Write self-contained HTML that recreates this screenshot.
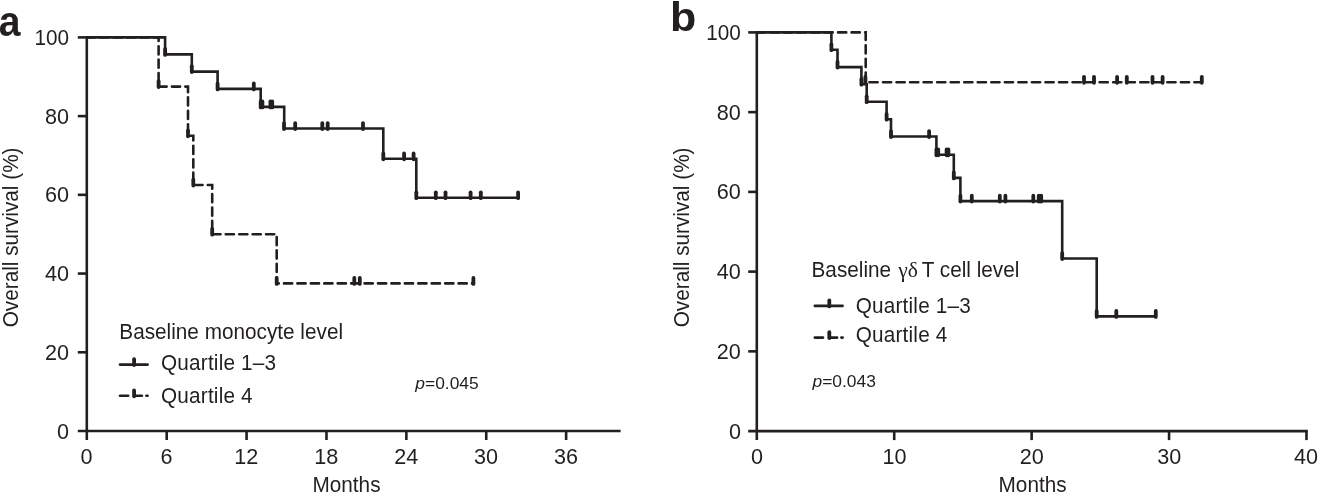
<!DOCTYPE html>
<html lang="en">
<head>
<meta charset="utf-8">
<title>Overall survival by baseline monocyte and gamma-delta T cell level</title>
<style>
html,body{margin:0;padding:0;background:#ffffff;}
body{width:1318px;height:493px;overflow:hidden;font-family:"Liberation Sans",Arial,Helvetica,sans-serif;}
svg{display:block;will-change:transform;}
</style>
</head>
<body>
<svg width="1318" height="493" viewBox="0 0 1318 493">
<rect width="1318" height="493" fill="#ffffff"/>
<g stroke="#231f20" stroke-width="2.6" fill="none" stroke-linecap="butt">
<path d="M86.8 36.1 V440"/>
<path d="M77.8 431 H620.6"/>
<path d="M77.8 352.28 H86.8"/>
<path d="M77.8 273.56 H86.8"/>
<path d="M77.8 194.84 H86.8"/>
<path d="M77.8 116.12 H86.8"/>
<path d="M77.8 37.4 H86.8"/>
<path d="M166.69 431 V440"/>
<path d="M246.58 431 V440"/>
<path d="M326.47 431 V440"/>
<path d="M406.36 431 V440"/>
<path d="M486.25 431 V440"/>
<path d="M566.14 431 V440"/>
</g>
<path d="M86.8 37.4 L165.1 37.4 L165.1 54.4 L191.8 54.4 L191.8 71.6 L217.6 71.6 L217.6 88.9 L260.7 88.9 L260.7 106.9 L284.2 106.9 L284.2 128.5 L383.3 128.5 L383.3 158.8 L416.3 158.8 L416.3 197.7 L518.1 197.7" fill="none" stroke="#231f20" stroke-width="2.6" stroke-linejoin="miter"/>
<g stroke="#231f20" stroke-width="3.8" stroke-linecap="round">
<line x1="165.1" y1="54.9" x2="165.1" y2="49"/>
<line x1="191.8" y1="72.1" x2="191.8" y2="66.2"/>
<line x1="217.6" y1="89.4" x2="217.6" y2="83.5"/>
<line x1="253.8" y1="89.4" x2="253.8" y2="83.5"/>
<line x1="260.7" y1="107.4" x2="260.7" y2="101.5"/>
<line x1="262.4" y1="107.4" x2="262.4" y2="101.5"/>
<line x1="270.4" y1="107.4" x2="270.4" y2="101.5"/>
<line x1="272.2" y1="107.4" x2="272.2" y2="101.5"/>
<line x1="284" y1="129" x2="284" y2="123.1"/>
<line x1="295.2" y1="129" x2="295.2" y2="123.1"/>
<line x1="322.3" y1="129" x2="322.3" y2="123.1"/>
<line x1="327.7" y1="129" x2="327.7" y2="123.1"/>
<line x1="363" y1="129" x2="363" y2="123.1"/>
<line x1="383.3" y1="159.3" x2="383.3" y2="153.4"/>
<line x1="404.1" y1="159.3" x2="404.1" y2="153.4"/>
<line x1="413.6" y1="159.3" x2="413.6" y2="153.4"/>
<line x1="416.3" y1="198.2" x2="416.3" y2="192.3"/>
<line x1="435.8" y1="198.2" x2="435.8" y2="192.3"/>
<line x1="445.5" y1="198.2" x2="445.5" y2="192.3"/>
<line x1="470.6" y1="198.2" x2="470.6" y2="192.3"/>
<line x1="480.8" y1="198.2" x2="480.8" y2="192.3"/>
<line x1="518.1" y1="198.2" x2="518.1" y2="192.3"/>
</g>
<path d="M86.8 37.4 L158.6 37.4 L158.6 86.6 L188 86.6 L188 135.8 L193.3 135.8 L193.3 185 L212.2 185 L212.2 234.2 L276.7 234.2 L276.7 283.4 L473.4 283.4" fill="none" stroke="#231f20" stroke-width="2.6" stroke-linecap="round" stroke-linejoin="miter" stroke-dasharray="8.2 5.23"/>
<g stroke="#231f20" stroke-width="3.8" stroke-linecap="round">
<line x1="158.6" y1="87.1" x2="158.6" y2="81.2"/>
<line x1="188" y1="136.3" x2="188" y2="130.4"/>
<line x1="193.3" y1="185.5" x2="193.3" y2="179.6"/>
<line x1="212.2" y1="234.7" x2="212.2" y2="228.8"/>
<line x1="276.7" y1="283.9" x2="276.7" y2="278"/>
<line x1="354.3" y1="283.9" x2="354.3" y2="278"/>
<line x1="359.8" y1="283.9" x2="359.8" y2="278"/>
<line x1="473.4" y1="283.9" x2="473.4" y2="278"/>
</g>
<g stroke="#231f20" stroke-width="2.6" fill="none" stroke-linecap="butt">
<path d="M756.8 31.1 V440.1"/>
<path d="M748.2 431.1 H1307.8"/>
<path d="M748.2 351.36 H756.8"/>
<path d="M748.2 271.62 H756.8"/>
<path d="M748.2 191.88 H756.8"/>
<path d="M748.2 112.14 H756.8"/>
<path d="M748.2 32.4 H756.8"/>
<path d="M894.22 431.1 V440.1"/>
<path d="M1031.64 431.1 V440.1"/>
<path d="M1169.06 431.1 V440.1"/>
<path d="M1306.48 431.1 V440.1"/>
</g>
<path d="M756.8 32.4 L831.4 32.4 L831.4 49.7 L837.5 49.7 L837.5 67.1 L861.4 67.1 L861.4 84.2 L866.7 84.2 L866.7 101.7 L886.6 101.7 L886.6 119.2 L891 119.2 L891 136.5 L936.4 136.5 L936.4 154.8 L953.8 154.8 L953.8 177.9 L960.4 177.9 L960.4 201.1 L1062.2 201.1 L1062.2 258.5 L1096.7 258.5 L1096.7 316.4 L1155.8 316.4" fill="none" stroke="#231f20" stroke-width="2.6" stroke-linejoin="miter"/>
<g stroke="#231f20" stroke-width="3.8" stroke-linecap="round">
<line x1="831.4" y1="50.2" x2="831.4" y2="44.3"/>
<line x1="837.5" y1="67.6" x2="837.5" y2="61.7"/>
<line x1="861.4" y1="84.7" x2="861.4" y2="78.8"/>
<line x1="866.7" y1="102.2" x2="866.7" y2="96.3"/>
<line x1="886.6" y1="119.7" x2="886.6" y2="113.8"/>
<line x1="891" y1="137" x2="891" y2="131.1"/>
<line x1="929.1" y1="137" x2="929.1" y2="131.1"/>
<line x1="936.4" y1="155.3" x2="936.4" y2="149.4"/>
<line x1="938.2" y1="155.3" x2="938.2" y2="149.4"/>
<line x1="946.6" y1="155.3" x2="946.6" y2="149.4"/>
<line x1="948.4" y1="155.3" x2="948.4" y2="149.4"/>
<line x1="953.8" y1="178.4" x2="953.8" y2="172.5"/>
<line x1="960.4" y1="201.6" x2="960.4" y2="195.7"/>
<line x1="971.8" y1="201.6" x2="971.8" y2="195.7"/>
<line x1="999.8" y1="201.6" x2="999.8" y2="195.7"/>
<line x1="1005.4" y1="201.6" x2="1005.4" y2="195.7"/>
<line x1="1033.3" y1="201.6" x2="1033.3" y2="195.7"/>
<line x1="1038.8" y1="201.6" x2="1038.8" y2="195.7"/>
<line x1="1041.2" y1="201.6" x2="1041.2" y2="195.7"/>
<line x1="1062.2" y1="259" x2="1062.2" y2="253.1"/>
<line x1="1096.7" y1="316.9" x2="1096.7" y2="311"/>
<line x1="1116.3" y1="316.9" x2="1116.3" y2="311"/>
<line x1="1155.8" y1="316.9" x2="1155.8" y2="311"/>
</g>
<path d="M756.8 32.4 L831.4 32.4 L865.7 32.4 L865.7 82.24 L1201.8 82.24" fill="none" stroke="#231f20" stroke-width="2.6" stroke-linecap="round" stroke-linejoin="miter" stroke-dasharray="8.2 5.34"/>
<g stroke="#231f20" stroke-width="3.8" stroke-linecap="round">
<line x1="865.4" y1="82.74" x2="865.4" y2="76.84"/>
<line x1="1084" y1="82.74" x2="1084" y2="76.84"/>
<line x1="1094" y1="82.74" x2="1094" y2="76.84"/>
<line x1="1117.1" y1="82.74" x2="1117.1" y2="76.84"/>
<line x1="1126.8" y1="82.74" x2="1126.8" y2="76.84"/>
<line x1="1152.5" y1="82.74" x2="1152.5" y2="76.84"/>
<line x1="1162.6" y1="82.74" x2="1162.6" y2="76.84"/>
<line x1="1201.8" y1="82.74" x2="1201.8" y2="76.84"/>
</g>
<line x1="120" y1="364.6" x2="147.6" y2="364.6" stroke="#231f20" stroke-width="2.6" stroke-linecap="round"/>
<g stroke="#231f20" stroke-width="3.8" stroke-linecap="round">
<line x1="134.1" y1="365.1" x2="134.1" y2="359.2"/>
</g>
<g stroke="#231f20" stroke-width="2.6" stroke-linecap="round">
<line x1="120" y1="395.8" x2="128.2" y2="395.8"/>
<line x1="134.1" y1="395.8" x2="141.9" y2="395.8"/>
<line x1="146.4" y1="395.8" x2="147.6" y2="395.8"/>
</g>
<g stroke="#231f20" stroke-width="3.8" stroke-linecap="round">
<line x1="134.1" y1="396.3" x2="134.1" y2="390.4"/>
</g>
<line x1="814.8" y1="305.9" x2="842.6" y2="305.9" stroke="#231f20" stroke-width="2.6" stroke-linecap="round"/>
<g stroke="#231f20" stroke-width="3.8" stroke-linecap="round">
<line x1="829.3" y1="306.4" x2="829.3" y2="300.5"/>
</g>
<g stroke="#231f20" stroke-width="2.6" stroke-linecap="round">
<line x1="814.8" y1="337.6" x2="823" y2="337.6"/>
<line x1="829.3" y1="337.6" x2="837.1" y2="337.6"/>
<line x1="841.4" y1="337.6" x2="842.6" y2="337.6"/>
</g>
<g stroke="#231f20" stroke-width="3.8" stroke-linecap="round">
<line x1="829.3" y1="338.1" x2="829.3" y2="332.2"/>
</g>
<g font-family="'Liberation Sans', Arial, Helvetica, sans-serif" fill="#231f20">
<text transform="translate(-1.3 36.1) scale(0.92 1)" font-size="42.5" font-weight="bold">a</text>
<text transform="translate(670 30.8) scale(1.05 1)" font-size="41" font-weight="bold">b</text>
<text x="69" y="438.55" font-size="21.6" text-anchor="end">0</text>
<text x="740.9" y="438.65" font-size="21.6" text-anchor="end">0</text>
<text x="69" y="359.83" font-size="21.6" text-anchor="end">20</text>
<text x="740.9" y="358.91" font-size="21.6" text-anchor="end">20</text>
<text x="69" y="281.11" font-size="21.6" text-anchor="end">40</text>
<text x="740.9" y="279.17" font-size="21.6" text-anchor="end">40</text>
<text x="69" y="202.39" font-size="21.6" text-anchor="end">60</text>
<text x="740.9" y="199.43" font-size="21.6" text-anchor="end">60</text>
<text x="69" y="123.67" font-size="21.6" text-anchor="end">80</text>
<text x="740.9" y="119.69" font-size="21.6" text-anchor="end">80</text>
<text x="69" y="44.95" font-size="21.6" text-anchor="end" textLength="34.6" lengthAdjust="spacingAndGlyphs">100</text>
<text x="740.9" y="39.95" font-size="21.6" text-anchor="end" textLength="34.6" lengthAdjust="spacingAndGlyphs">100</text>
<text x="86.6" y="463.6" font-size="21.6" text-anchor="middle">0</text>
<text x="166.49" y="463.6" font-size="21.6" text-anchor="middle">6</text>
<text x="246.38" y="463.6" font-size="21.6" text-anchor="middle">12</text>
<text x="326.27" y="463.6" font-size="21.6" text-anchor="middle">18</text>
<text x="406.16" y="463.6" font-size="21.6" text-anchor="middle">24</text>
<text x="486.05" y="463.6" font-size="21.6" text-anchor="middle">30</text>
<text x="565.94" y="463.6" font-size="21.6" text-anchor="middle">36</text>
<text x="757" y="463.6" font-size="21.6" text-anchor="middle">0</text>
<text x="894.42" y="463.6" font-size="21.6" text-anchor="middle">10</text>
<text x="1031.84" y="463.6" font-size="21.6" text-anchor="middle">20</text>
<text x="1169.26" y="463.6" font-size="21.6" text-anchor="middle">30</text>
<text x="1318" y="463.6" font-size="21.6" text-anchor="end">40</text>
<text transform="translate(346.5 491.8) scale(1 1.045)" font-size="20.75" text-anchor="middle">Months</text>
<text transform="translate(1032.6 491.8) scale(1 1.045)" font-size="20.75" text-anchor="middle">Months</text>
<text transform="translate(17.9 237.4) rotate(-90) scale(1 1.045)" font-size="20.75" text-anchor="middle">Overall survival (%)</text>
<text transform="translate(689.1 237.4) rotate(-90) scale(1 1.045)" font-size="20.75" text-anchor="middle">Overall survival (%)</text>
<text transform="translate(119.3 338.5) scale(1 1.045)" font-size="20.75" text-anchor="start">Baseline monocyte level</text>
<text transform="translate(161 369.7) scale(1 1.045)" font-size="20.75" text-anchor="start" letter-spacing="0.19">Quartile 1–3</text>
<text transform="translate(161 402.5) scale(1 1.045)" font-size="20.75" text-anchor="start" letter-spacing="0.19">Quartile 4</text>
<text x="415.3" y="388.9" font-size="15.8" textLength="63.4" lengthAdjust="spacingAndGlyphs"><tspan font-style="italic">p</tspan>=0.045</text>
<text transform="translate(811.5 276.8) scale(1 1.045)" font-size="20.75" text-anchor="start">Baseline</text>
<text x="898.2" y="276.8" font-family="'Liberation Serif', 'DejaVu Serif', serif" font-size="21.6">γδ</text>
<text transform="translate(921.7 276.8) scale(1 1.045)" font-size="20.75" text-anchor="start">T cell level</text>
<text transform="translate(855.7 312.6) scale(1 1.045)" font-size="20.75" text-anchor="start" letter-spacing="0.19">Quartile 1–3</text>
<text transform="translate(855.7 342.4) scale(1 1.045)" font-size="20.75" text-anchor="start" letter-spacing="0.19">Quartile 4</text>
<text x="812.5" y="386.9" font-size="15.8" textLength="63.4" lengthAdjust="spacingAndGlyphs"><tspan font-style="italic">p</tspan>=0.043</text>
</g>
</svg>
</body>
</html>
